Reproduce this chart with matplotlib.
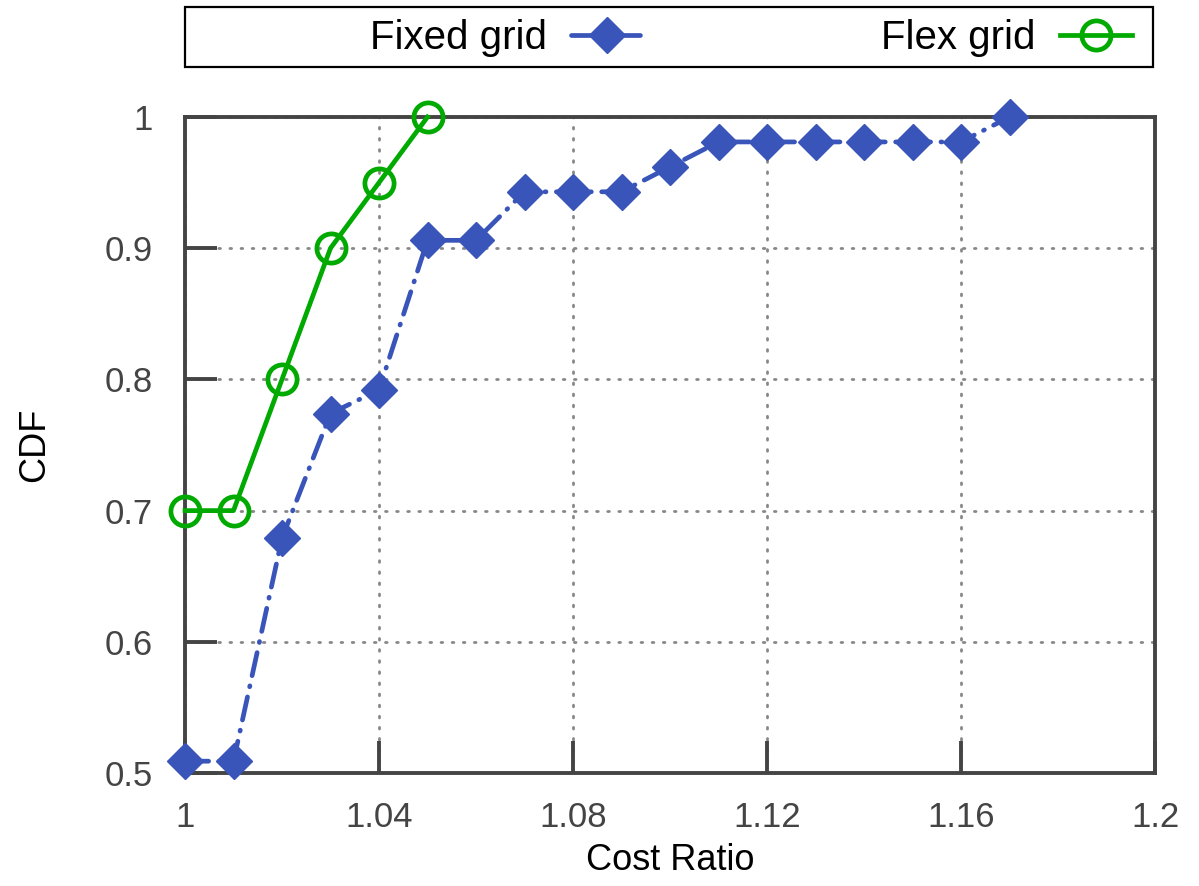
"""CDF of cost ratio: fixed grid vs flex grid (gnuplot-style recreation)."""

import matplotlib

matplotlib.use("Agg")
import matplotlib.pyplot as plt
from matplotlib.patches import Rectangle

# data
fixed_x = [1.00, 1.01, 1.02, 1.03, 1.04, 1.05, 1.06, 1.07, 1.08, 1.09,
           1.10, 1.11, 1.12, 1.13, 1.14, 1.15, 1.16, 1.17]
fixed_cdf = [0.509, 0.509, 0.679, 0.774, 0.792, 0.906, 0.906, 0.943, 0.943, 0.943,
             0.962, 0.981, 0.981, 0.981, 0.981, 0.981, 0.981, 1.0]
flex_x = [1.00, 1.01, 1.02, 1.03, 1.04, 1.05]
flex_cdf = [0.7, 0.7, 0.8, 0.9, 0.95, 1.0]

x_ticks = [1.0, 1.04, 1.08, 1.12, 1.16, 1.2]
x_ticklabels = ["1", "1.04", "1.08", "1.12", "1.16", "1.2"]
y_ticks = [0.5, 0.6, 0.7, 0.8, 0.9, 1.0]
y_ticklabels = ["0.5", "0.6", "0.7", "0.8", "0.9", "1"]

BLUE = "#3a55b9"
GREEN = "#00aa00"
AXIS = "#444444"

plt.rcParams["font.family"] = ["Liberation Sans", "DejaVu Sans"]

fig = plt.figure(figsize=(11.99, 8.86), dpi=100)
ax = fig.add_axes([185 / 1199, 1 - 773 / 886, 970 / 1199, 656 / 886])

ax.plot(fixed_x, fixed_cdf, color=BLUE, lw=3.4, marker="D", ms=18,
        mfc=BLUE, mec=BLUE, mew=1, linestyle=(0, (5, 2.2, 0.2, 2.2)),
        dash_capstyle="round", label="Fixed grid", zorder=3, clip_on=False)
ax.plot(flex_x, flex_cdf, color=GREEN, lw=3.4, marker="o", ms=21,
        mfc="none", mec=GREEN, mew=3.4, label="Flex grid", zorder=4, clip_on=False)

ax.set_xlim(1.0, 1.2)
ax.set_ylim(0.5, 1.0)
ax.set_xticks(x_ticks)
ax.set_xticklabels(x_ticklabels)
ax.set_yticks(y_ticks)
ax.set_yticklabels(y_ticklabels)

ax.grid(True, color="#888888", lw=2.0, linestyle=(0, (0.6, 3.4)),
        dash_capstyle="round", zorder=0)
ax.set_axisbelow(True)

for s in ax.spines.values():
    s.set_color(AXIS)
    s.set_linewidth(2.8)
ax.tick_params(axis="both", direction="in", length=23, width=2.8, color=AXIS,
               labelsize=25, labelcolor="#444444", top=False, right=False)
ax.tick_params(axis="x", pad=20)
ax.tick_params(axis="y", pad=23)

ax.set_xlabel("Cost Ratio", fontsize=26, labelpad=7)
ax.set_ylabel("CDF", fontsize=26, labelpad=38)

# legend box across the top, text before the sample (gnuplot style)
fig.add_artist(Rectangle((185 / 1199, 1 - 67 / 886), 968 / 1199, 60 / 886,
                         transform=fig.transFigure, fill=False, ec="black", lw=1.6))
fig.legend(loc="center right", bbox_to_anchor=(1132 / 1199, 1 - 38 / 886),
           ncol=2, markerfirst=False, frameon=False, fontsize=29,
           handlelength=1.8, handletextpad=0.6, columnspacing=5.9,
           borderpad=0, borderaxespad=0)

fig.savefig("out.png", dpi=100)
